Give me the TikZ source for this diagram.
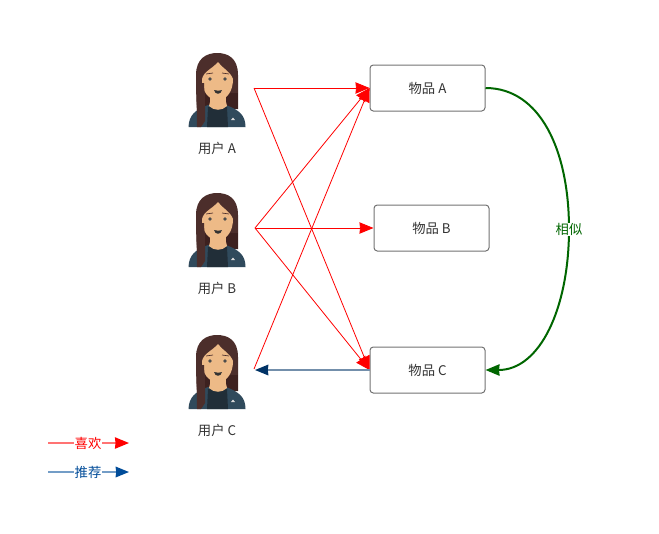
\documentclass[tikz,border=0pt]{standalone}
\usepackage{fontspec}
\setmainfont{Noto Sans CJK SC}
\usepackage{tikz}
\usetikzlibrary{arrows.meta,calc,positioning}
\definecolor{rojo}{rgb}{1,0,0}
\definecolor{azul}{rgb}{0,0.30,0.60}
\definecolor{marino}{rgb}{0,0.20,0.40}
\definecolor{verde}{rgb}{0,0.40,0}
\definecolor{pelo}{rgb}{0.30,0.18,0.17}
\definecolor{pelosombra}{rgb}{0.24,0.13,0.12}
\definecolor{piel}{rgb}{0.93,0.73,0.53}
\definecolor{chaqueta}{rgb}{0.19,0.29,0.36}
\definecolor{camisa}{rgb}{0.13,0.18,0.22}
\tikzset{
  item/.style={
    rounded corners=2.5pt,
    draw=black!55,
    line width=.75pt,
    fill=white,
    align=center,
    minimum width=86.25pt,
    minimum height=34.5pt,
    inner sep=0pt,
    text=black!80,
    font=\fontsize{10pt}{11pt}\selectfont
  },
  etiqueta/.style={
    inner sep=1pt,
    text=black!80,
    font=\fontsize{10pt}{11pt}\selectfont
  },
  leyenda/.style={
    fill=white,
    inner sep=.5pt,
    font=\fontsize{10pt}{11pt}\selectfont
  },
  gusta/.style={
    -{Stealth[length=10.5pt,width=8.5pt,inset=.4pt,color=rojo]},
    line width=.6pt,
    rojo
  },
  recom/.style={
    -{Stealth[length=10pt,width=8pt,inset=.4pt,color=#1]},
    line width=1.1pt,
    draw=#1!55
  },
  persona/.pic={
    % pelo
    \fill[pelo] (-20,60) .. controls (-21,40) and (-21,30) .. (-21,22)
      .. controls (-21,5) and (-10,0) .. (0,0)
      .. controls (11,0) and (21,5) .. (21,22) -- (21,56) -- (-10,56) -- cycle;
    \fill[pelosombra] (-12,40) rectangle (21,56);
    % chaqueta
    \fill[chaqueta] (-28.5,74) .. controls (-28,62) and (-22,57) .. (-9,52)
      -- (9,52) .. controls (22,57) and (28.5,62) .. (28.5,74) -- cycle;
    \fill[camisa] (-10,74) -- (-9,54) -- (10,54) -- (11,74) -- cycle;
    % cuello y cara
    \fill[piel] (-7,38) rectangle (9,50);
    \fill[piel] (-7,49) -- (9,49) -- (10,53) .. controls (5,58) and (-3,58) .. (-8,53) -- cycle;
    \fill[piel] (-15,26) .. controls (-13,18) and (-5,16) .. (1,9)
      .. controls (5,15) and (13,18) .. (16,26)
      .. controls (16,38) and (10,47) .. (1,47)
      .. controls (-9,47) and (-15,38) .. (-15,26) -- cycle;
    % mechon
    \fill[pelo] (-20.5,30) -- (-13,30) -- (-12,52) -- (-12,68) -- (-16,74) -- (-20,74) -- cycle;
    % ojos y boca
    \fill[black!70] (-7,26) circle (1.8);
    \fill[black!70] (8,26) circle (1.8);
    \draw[pelo,line width=.5pt] (-11,21) -- (-4,20);
    \draw[pelo,line width=.5pt] (5,20) -- (12,21);
    \fill[black!80] (-3,37) .. controls (0,38) and (3,38) .. (5,37)
      .. controls (4,42) and (-2,42) .. (-3,37) -- cycle;
    \fill[white!85!black] (14,67) -- (16,64.5) -- (18,67) -- cycle;
  }
}
\begin{document}
\begin{tikzpicture}[x=.75pt,y=-.75pt]
\useasboundingbox (0,0) rectangle (659,533);
\pic at (217,53) {persona};
\pic at (217,193) {persona};
\pic at (217,335) {persona};
\node[etiqueta] (na) at (217,148.5) {用户 A};
\node[etiqueta] (nb) at (217,288.5) {用户 B};
\node[etiqueta] (nc) at (217,430.5) {用户 C};
\coordinate (ua) at (254,88);
\coordinate (ub) at (255,228);
\coordinate (uc) at (254,369);
\node[item] (a) at (427.5,88) {\raisebox{-1pt}{物品 A}};
\node[item] (b) at (431.5,228) {\raisebox{-1pt}{物品 B}};
\node[item] (c) at (427.5,370) {\raisebox{-1pt}{物品 C}};
\draw[gusta] (ua) -- (a.west);
\draw[gusta] (ua) -- (c.west);
\draw[gusta] (ub) -- (a.west);
\draw[gusta] (ub) -- (b.west);
\draw[gusta] (ub) -- (c.west);
\draw[gusta] (uc) -- (a.west);
\coordinate (ucb) at (255,370);
\draw[recom=marino] (c.west) -- (ucb);
% similitud
\coordinate (s) at (569,229);
\draw[verde,line width=1.5pt,-{Stealth[length=10.5pt,width=8.5pt,inset=.4pt]}]
  (a.east) .. controls (540,88) and (569,150) .. (s)
  .. controls (569,308) and (540,370) .. (c.east);
\node[leyenda,text=verde] (sim) at (569,229.5) {相似};
% leyenda
\coordinate (l1) at (48,443);
\coordinate (l2) at (129,443);
\coordinate (l3) at (48,472);
\coordinate (l4) at (129,472);
\draw[gusta,line width=1.1pt,draw=rojo!55] (l1) -- (l2);
\draw[recom=azul] (l3) -- (l4);
\node[leyenda,text=rojo] (lg) at (88,443.5) {喜欢};
\node[leyenda,text=azul] (lr) at (88,472.5) {推荐};
\end{tikzpicture}
\end{document}
